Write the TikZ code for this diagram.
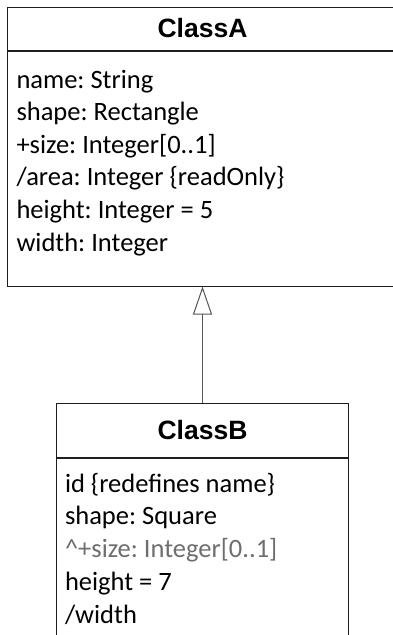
\documentclass[tikz,border=0pt]{standalone}
\usepackage{fontspec}
\setmainfont{Carlito}
\newfontfamily\headfont{Liberation Sans}
\usetikzlibrary{arrows.meta}
\frenchspacing
\definecolor{figline}{RGB}{30,30,30}
\definecolor{figlink}{RGB}{85,85,85}
\definecolor{figinh}{RGB}{110,110,110}
\tikzset{
  classhead/.style ={draw=figline, line width=1pt, inner sep=0pt,
                     font=\headfont\bfseries\fontsize{26.5}{32}\selectfont},
  classbody/.style ={draw=figline, line width=1pt, inner sep=0pt},
  attr/.style      ={anchor=base west, inner sep=0pt,
                     font=\fontsize{26.5}{32}\selectfont},
  attrinh/.style   ={attr, text=figinh},
  gen/.style       ={draw=figlink, line width=1pt,
                     -{Triangle[open, length=28pt, width=19pt]}},
}
\begin{document}
\begin{tikzpicture}[x=1pt,y=-1pt]
  \clip (0,0) rectangle (393,635);
  \fill[white] (0,0) rectangle (393,635);
  % ClassA
  \node[classhead, minimum width=391pt, minimum height=43pt] (Ahead) at (202.5,28.5) {ClassA};
  \node[classbody, minimum width=391pt, minimum height=235pt, anchor=north] (Abody) at (Ahead.south) {};
  \node[attr] (Aname)   at (16.3,88)    {name: String};
  \node[attr] (Ashape)  at (16.3,120.6) {shape: Rectangle};
  \node[attr] (Asize)   at (16.3,153.2) {+size: Integer[0..1]};
  \node[attr] (Aarea)   at (16.3,185.8) {/area: Integer \{readOnly\}};
  \node[attr] (Aheight) at (16.3,218.4) {height: Integer = 5};
  \node[attr] (Awidth)  at (16.3,251)   {width: Integer};
  % ClassB
  \node[classhead, minimum width=292pt, minimum height=54pt] (Bhead) at (202.5,430) {ClassB};
  \node[classbody, minimum width=292pt, minimum height=230pt, anchor=north] (Bbody) at (Bhead.south) {};
  \node[attr]    (Bid)     at (64.8,492)   {id \{redefines name\}};
  \node[attr]    (Bshape)  at (64.8,524.8) {shape: Square};
  \node[attrinh] (Bsize)   at (64.8,557.6) {\textasciicircum+size: Integer[0..1]};
  \node[attr]    (Bheight) at (64.8,590.4) {height = 7};
  \node[attr]    (Bwidth)  at (64.8,623.2) {/width};
  % generalization
  \draw[gen] (Bhead.north) -- (Abody.south);
\end{tikzpicture}
\end{document}
